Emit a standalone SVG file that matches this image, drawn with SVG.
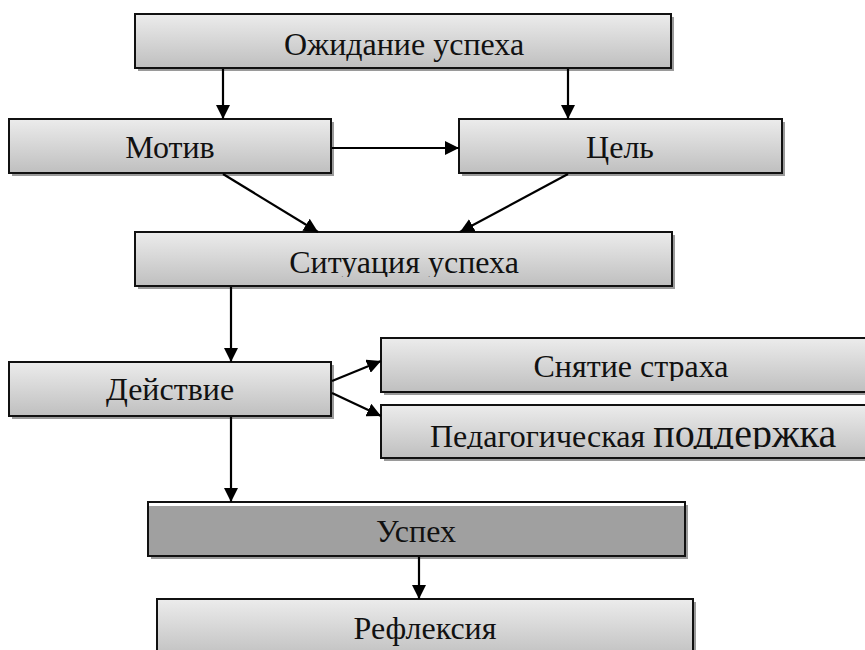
<svg xmlns="http://www.w3.org/2000/svg" width="865" height="650" viewBox="0 0 865 650">
<defs>
<linearGradient id="g" x1="0" y1="0" x2="0" y2="1">
<stop offset="0" stop-color="#ececec"/>
<stop offset="1" stop-color="#bfbfbf"/>
</linearGradient>
<marker id="ah" viewBox="0 0 14 14" refX="14" refY="7" markerWidth="14" markerHeight="14" markerUnits="userSpaceOnUse" orient="auto">
<path d="M0,0 L14,7 L0,14 Z" fill="#000"/>
</marker>
<clipPath id="c1"><rect x="130" y="230" width="550" height="47"/></clipPath>
<clipPath id="c2"><rect x="380" y="336" width="485" height="45"/></clipPath>
<clipPath id="c3"><rect x="380" y="403" width="485" height="46"/></clipPath>
</defs>
<style>
.sh{fill:#9a9a9a}
.bx{fill:url(#g);stroke:#111;stroke-width:2}
.dk{fill:#a0a0a0;stroke:#111;stroke-width:2}
</style>
<rect width="865" height="650" fill="#fff"/>
<g font-family="Liberation Serif, serif" font-size="32" fill="#111" text-anchor="middle">
<g id="n1">
<rect class="sh" x="138" y="17" width="536" height="54"/>
<rect class="bx" x="135" y="14" width="536" height="54"/>
<text x="404" y="55">Ожидание успеха</text>
</g>
<g id="n2">
<rect class="sh" x="12" y="122" width="322" height="54"/>
<rect class="bx" x="9" y="119" width="322" height="54"/>
<text x="170" y="158">Мотив</text>
</g>
<g id="n3">
<rect class="sh" x="462" y="122" width="323" height="54"/>
<rect class="bx" x="459" y="119" width="323" height="54"/>
<text x="620" y="158">Цель</text>
</g>
<g id="n4">
<rect class="sh" x="138" y="235" width="537" height="54"/>
<rect class="bx" x="135" y="232" width="537" height="54"/>
<text x="404" y="273" clip-path="url(#c1)">Ситуация успеха</text>
</g>
<g id="n5">
<rect class="sh" x="12" y="365" width="322" height="54"/>
<rect class="bx" x="9" y="362" width="322" height="54"/>
<text x="170" y="400">Действие</text>
</g>
<g id="n6">
<rect class="sh" x="384" y="341" width="500" height="54"/>
<rect class="bx" x="381" y="338" width="500" height="54"/>
<text x="631" y="377" clip-path="url(#c2)">Снятие страха</text>
</g>
<g id="n7">
<rect class="sh" x="384" y="408" width="500" height="53"/>
<rect class="bx" x="381" y="405" width="500" height="53"/>
<text x="430" y="447" text-anchor="start" clip-path="url(#c3)">Педагогическая <tspan font-size="40">поддержка</tspan></text>
</g>
<g id="n8">
<rect class="sh" x="151" y="505" width="537" height="54"/>
<rect class="dk" x="148" y="502" width="537" height="54"/>
<rect x="149" y="503" width="535" height="3" fill="#fff"/>
<text x="416" y="542">Успех</text>
</g>
<g id="n9">
<rect class="sh" x="160" y="602" width="536" height="60"/>
<rect class="bx" x="157" y="599" width="536" height="60"/>
<text x="425" y="639">Рефлексия</text>
</g>
</g>
<g id="edges" stroke="#000" stroke-width="2.2" fill="none" marker-end="url(#ah)">
<line x1="223" y1="69" x2="223" y2="119"/>
<line x1="568" y1="69" x2="568" y2="119"/>
<line x1="332" y1="148" x2="459" y2="148"/>
<line x1="223" y1="174" x2="318" y2="232"/>
<line x1="568" y1="174" x2="460" y2="232"/>
<line x1="231" y1="287" x2="231" y2="362"/>
<line x1="332" y1="381" x2="381" y2="361"/>
<line x1="332" y1="393" x2="381" y2="416"/>
<line x1="231" y1="417" x2="231" y2="502"/>
<line x1="419" y1="557" x2="419" y2="599"/>
</g>
</svg>
